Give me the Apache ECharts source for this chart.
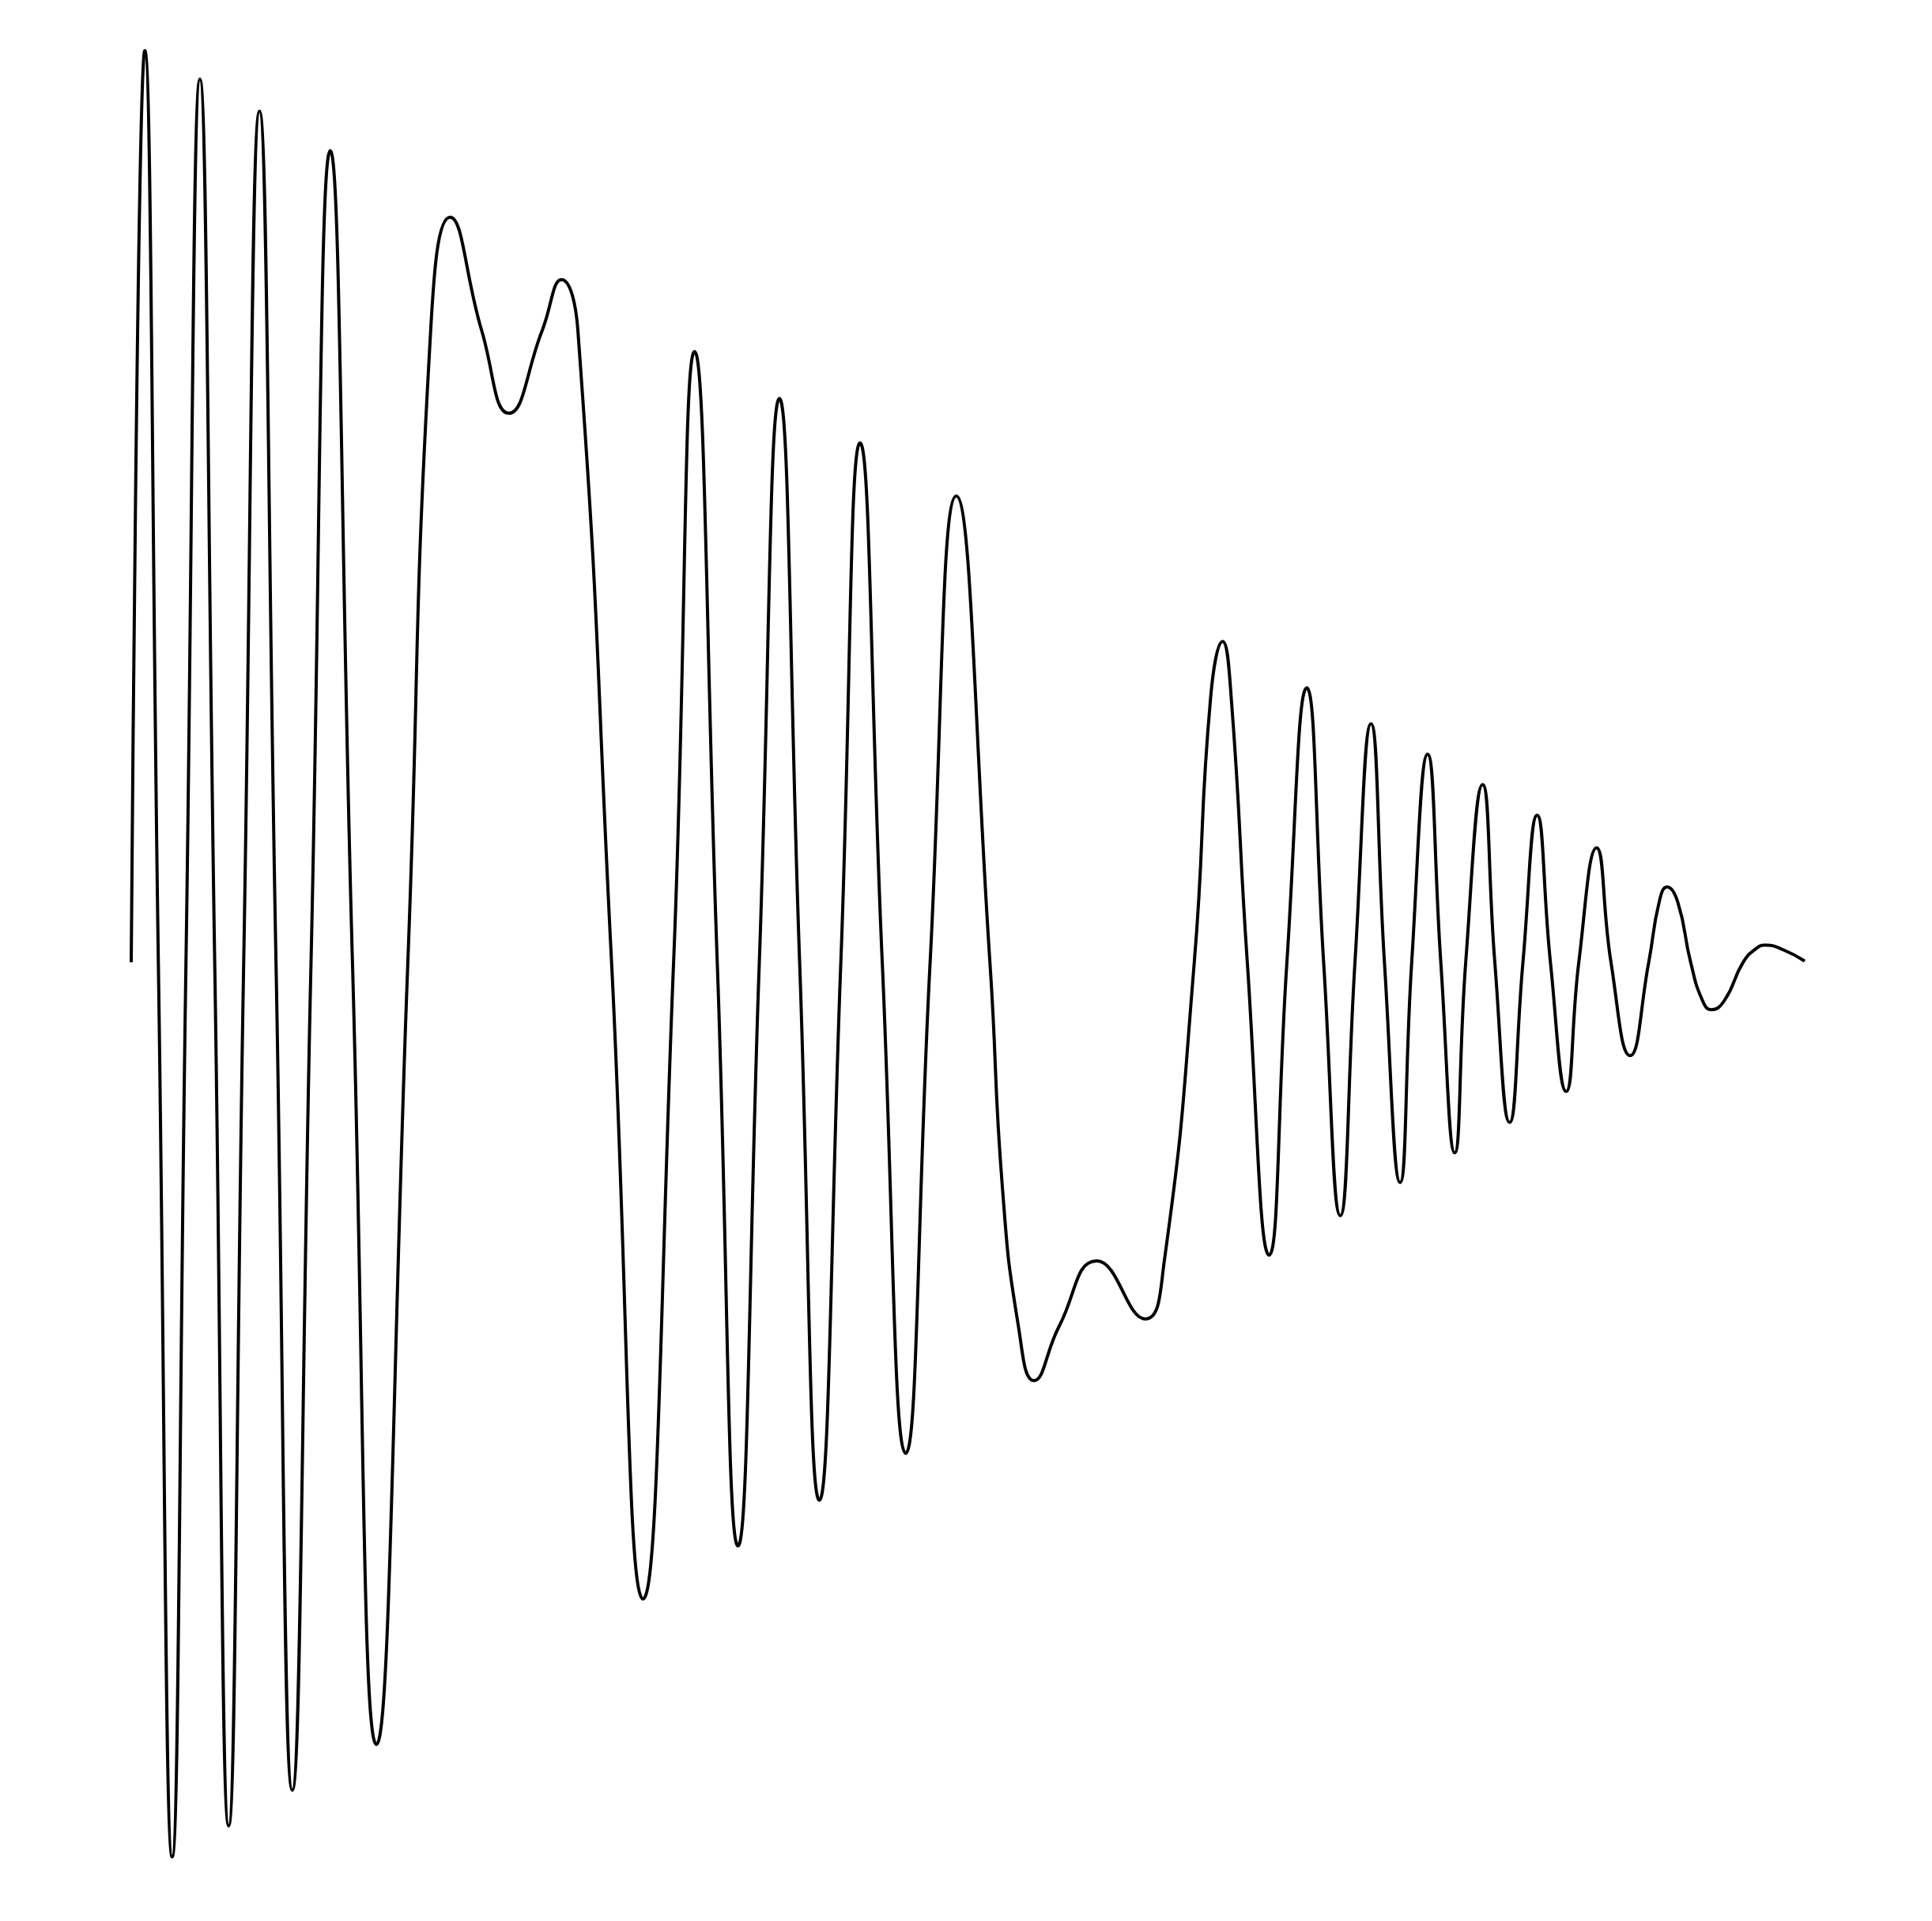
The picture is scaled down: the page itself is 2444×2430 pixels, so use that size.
<!DOCTYPE html>
<html>
<head>
<meta charset="utf-8">
<script src="https://cdn.jsdelivr.net/npm/echarts@6/dist/echarts.min.js"></script>
<style>
  html, body { margin: 0; padding: 0; background: #ffffff; }
  #chart { width: 2444px; height: 2430px; }
</style>
</head>
<body>
<div id="chart"></div>
<script>
// time (sample units) and amplitude readings, point by point
const time = [
  0, 11, 22, 33.2, 44.4, 55.7, 67.7, 79, 91.2, 104, 117.4, 130.6, 145.8, 161.4, 179.4, 198.8,
  224.3, 242.8, 258.6, 284.2, 306.2, 333.2, 348.9, 362.2,
  389.5, 415, 439.8, 456.8, 475.2, 492, 509.3, 525.6, 542, 558, 575.4, 591, 609, 628, 647.8, 669,
  696.3, 706.3, 719.4, 732, 752.4, 783, 822.2, 837.7,
  862, 875.2, 885, 892,
  905, 922.7, 937.1, 953.2, 966.9, 980.4, 992.3, 1005.3, 1016.2, 1028.9, 1038.3, 1051.2,
  1061.9, 1073.2, 1082.1, 1095.8, 1105.7, 1117.7, 1128.5, 1140, 1150.8, 1163.6, 1173.8, 1188.2,
  1199.9, 1215.4, 1230.5, 1239, 1245.3, 1254, 1264.5, 1274, 1281.3, 1292, 1307, 1317.6, 1325, 1340, 1357
];
const amplitude = [
  0, 739, 0, -725, 0, 716, 0, -700, 0, 690, 0, -671, 0, 658, 0, -634,
  0, 512, 604, 512, 445, 512, 553.4, 512,
  0, -516, 0, 495, 0, -473, 0, 457, 0, -436, 0, 421, 0, -398, 0, 378,
  0, -181, -295, -339, -295, -242, -289, -242,
  0, 214, 260, 214,
  0, -237.3, 0, 222.5, 0, -205.3, 0, 193.4, 0, -178.4, 0, 168.7,
  0, -154.4, 0, 144, 0, -129.7, 0, 119.3, 0, -104.7, 0, 92.8,
  0, -75.6, 0, 49, 61.1, 49, 0, -30.7, -38.4, -30.7, 0, 11.2, 14, 10, 1
];

const points = time.map((t, i) => [t, amplitude[i]]);

const chart = echarts.init(document.getElementById('chart'), null, { renderer: 'canvas' });
chart.setOption({
  backgroundColor: '#ffffff',
  animation: false,
  grid: { left: 166, right: 161, top: 0, bottom: 0, containLabel: false },
  xAxis: { type: 'value', min: 0, max: 1357, show: false },
  yAxis: { type: 'value', min: -777, max: 780, show: false },
  series: [{
    type: 'line',
    data: points,
    smooth: 0.5,
    showSymbol: false,
    lineStyle: { color: '#000000', width: 4 }
  }]
});
</script>
</body>
</html>
